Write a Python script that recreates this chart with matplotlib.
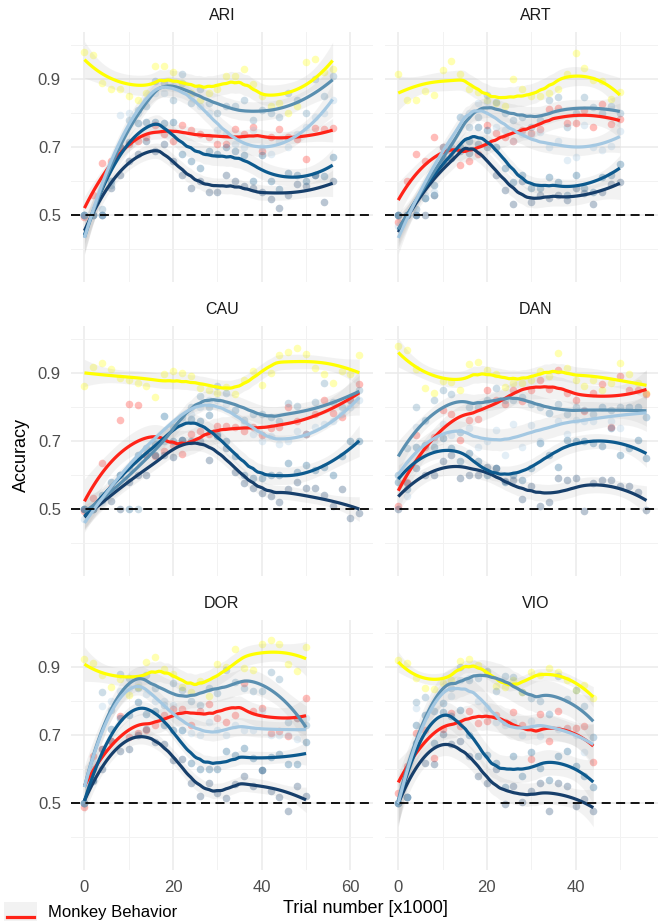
import numpy as np
import matplotlib
matplotlib.use("Agg")
from matplotlib import pyplot as plt
from matplotlib.lines import Line2D
from matplotlib.patches import Rectangle

plt.rcParams['font.family'] = ['Liberation Sans', 'DejaVu Sans']

# accuracy per 2000-trial block, one list per monkey and series
# "ideal" = yellow, "monkey" = red, l1..l4 = model layers (dark -> light blue)
ari_ideal = [0.98, 0.97, 0.89, 0.87, 0.87, 0.85, 0.84, 0.86, 0.94, 0.94, 0.92, 0.89, 0.86, 0.84, 0.86,
             0.87, 0.91, 0.91, 0.93, 0.885, 0.85, 0.82, 0.83, 0.80, 0.82, 0.95, 0.96, 0.92, 0.93]
ari_monkey = [0.495, 0.56, 0.654, 0.66, 0.70, 0.71, 0.72, 0.73, 0.765, 0.74, 0.72, 0.765, 0.75, 0.74, 0.73,
              0.71, 0.71, 0.755, 0.74, 0.76, 0.69, 0.73, 0.755, 0.73, 0.725, 0.667, 0.758, 0.755, 0.758]
ari_l1 = [0.50, 0.50, 0.50, 0.58, 0.62, 0.66, 0.68, 0.72, 0.69, 0.71, 0.66, 0.62, 0.58, 0.60, 0.57,
          0.57, 0.62, 0.60, 0.585, 0.58, 0.568, 0.547, 0.523, 0.56, 0.593, 0.585, 0.62, 0.539, 0.60]
ari_l2 = [0.50, 0.50, 0.50, 0.60, 0.70, 0.716, 0.77, 0.775, 0.775, 0.77, 0.775, 0.68, 0.66, 0.64, 0.69,
          0.68, 0.70, 0.69, 0.676, 0.60, 0.676, 0.60, 0.578, 0.623, 0.62, 0.60, 0.62, 0.615, 0.672]
ari_l3 = [0.50, 0.50, 0.52, 0.59, 0.70, 0.78, 0.81, 0.82, 0.895, 0.89, 0.84, 0.915, 0.83, 0.87, 0.83,
          0.80, 0.82, 0.82, 0.84, 0.78, 0.81, 0.80, 0.79, 0.86, 0.84, 0.80, 0.90, 0.85, 0.91]
ari_l4 = [0.50, 0.50, 0.50, 0.60, 0.794, 0.80, 0.80, 0.84, 0.86, 0.86, 0.88, 0.89, 0.85, 0.82, 0.80,
          0.75, 0.74, 0.71, 0.70, 0.75, 0.70, 0.68, 0.72, 0.70, 0.74, 0.76, 0.79, 0.80, 0.84]

art_ideal = [0.915, 0.84, 0.838, 0.866, 0.853, 0.926, 0.954, 0.915, 0.87, 0.863, 0.84, 0.83, 0.82,
             0.90, 0.87, 0.85, 0.85, 0.86, 0.87, 0.915, 0.978, 0.933, 0.897, 0.895, 0.843, 0.863]
art_monkey = [0.48, 0.60, 0.68, 0.66, 0.73, 0.70, 0.69, 0.647, 0.66, 0.68, 0.765, 0.742, 0.73,
              0.72, 0.75, 0.742, 0.755, 0.814, 0.817, 0.77, 0.77, 0.81, 0.76, 0.826, 0.768, 0.784]
art_l1 = [0.50, 0.50, 0.50, 0.50, 0.56, 0.67, 0.67, 0.69, 0.683, 0.71, 0.70, 0.62, 0.574,
          0.532, 0.60, 0.54, 0.56, 0.55, 0.56, 0.544, 0.58, 0.566, 0.532, 0.57, 0.593, 0.598]
art_l2 = [0.50, 0.50, 0.50, 0.55, 0.59, 0.66, 0.67, 0.70, 0.72, 0.76, 0.75, 0.70, 0.64,
          0.598, 0.618, 0.58, 0.58, 0.613, 0.598, 0.56, 0.618, 0.58, 0.57, 0.613, 0.62, 0.65]
art_l3 = [0.50, 0.50, 0.52, 0.55, 0.56, 0.70, 0.70, 0.79, 0.76, 0.79, 0.853, 0.833, 0.80,
          0.78, 0.79, 0.76, 0.78, 0.84, 0.848, 0.76, 0.80, 0.848, 0.818, 0.80, 0.82, 0.80]
art_l4 = [0.47, 0.50, 0.52, 0.56, 0.57, 0.70, 0.72, 0.79, 0.80, 0.83, 0.833, 0.76, 0.75,
          0.72, 0.74, 0.735, 0.745, 0.70, 0.72, 0.662, 0.672, 0.765, 0.70, 0.693, 0.703, 0.748]

cau_ideal = [0.861, 0.918, 0.93, 0.913, 0.886, 0.879, 0.871, 0.861, 0.83, 0.898, 0.906, 0.90, 0.89, 0.857, 0.85, 0.841,
             0.86, 0.838, 0.88, 0.906, 0.864, 0.90, 0.954, 0.963, 0.974, 0.957, 0.916, 0.896, 0.871, 0.906, 0.898, 0.952]
cau_monkey = [0.493, 0.532, 0.635, 0.561, 0.763, 0.81, 0.805, 0.66, 0.656, 0.67, 0.688, 0.662, 0.72, 0.73, 0.72, 0.744,
              0.744, 0.74, 0.73, 0.74, 0.718, 0.737, 0.74, 0.80, 0.76, 0.722, 0.78, 0.822, 0.781, 0.771, 0.82, 0.869]
cau_l1 = [0.50, 0.50, 0.527, 0.524, 0.50, 0.58, 0.60, 0.60, 0.659, 0.66, 0.654, 0.703, 0.70, 0.70, 0.644, 0.715,
          0.68, 0.61, 0.578, 0.561, 0.547, 0.537, 0.522, 0.56, 0.58, 0.561, 0.561, 0.54, 0.508, 0.56, 0.474, 0.488]
cau_l2 = [0.50, 0.50, 0.54, 0.58, 0.60, 0.50, 0.66, 0.66, 0.69, 0.773, 0.70, 0.703, 0.766, 0.76, 0.776, 0.722,
          0.70, 0.656, 0.60, 0.59, 0.59, 0.60, 0.60, 0.635, 0.61, 0.63, 0.615, 0.625, 0.60, 0.656, 0.70, 0.70]
cau_l3 = [0.50, 0.50, 0.53, 0.56, 0.60, 0.62, 0.50, 0.68, 0.66, 0.70, 0.74, 0.77, 0.80, 0.832, 0.80, 0.861,
          0.841, 0.79, 0.761, 0.78, 0.78, 0.77, 0.76, 0.812, 0.802, 0.722, 0.815, 0.871, 0.815, 0.80, 0.82, 0.85]
cau_l4 = [0.47, 0.50, 0.52, 0.56, 0.60, 0.62, 0.64, 0.68, 0.70, 0.773, 0.75, 0.76, 0.78, 0.80, 0.82, 0.82,
          0.81, 0.79, 0.75, 0.72, 0.70, 0.715, 0.69, 0.70, 0.73, 0.722, 0.74, 0.75, 0.76, 0.78, 0.80, 0.82]

dan_ideal = [0.979, 0.968, 0.913, 0.857, 0.841, 0.877, 0.874, 0.849, 0.925, 0.932, 0.908, 0.896, 0.859, 0.87, 0.871,
             0.88, 0.906, 0.89, 0.96, 0.916, 0.88, 0.861, 0.88, 0.851, 0.87, 0.93, 0.896, 0.87, 0.84]
dan_monkey = [0.51, 0.58, 0.718, 0.683, 0.713, 0.791, 0.78, 0.703, 0.763, 0.766, 0.851, 0.82, 0.808, 0.851, 0.818,
              0.849, 0.88, 0.854, 0.91, 0.84, 0.82, 0.789, 0.84, 0.867, 0.74, 0.89, 0.851, 0.851, 0.838]
dan_l1 = [0.50, 0.576, 0.62, 0.60, 0.60, 0.64, 0.66, 0.591, 0.60, 0.60, 0.625, 0.62, 0.581, 0.586, 0.529,
          0.568, 0.508, 0.52, 0.59, 0.586, 0.591, 0.493, 0.578, 0.586, 0.586, 0.568, 0.568, 0.55, 0.496]
dan_l2 = [0.58, 0.559, 0.683, 0.688, 0.683, 0.708, 0.679, 0.64, 0.664, 0.64, 0.60, 0.62, 0.58, 0.60, 0.586,
          0.62, 0.693, 0.66, 0.625, 0.703, 0.70, 0.701, 0.695, 0.685, 0.737, 0.66, 0.68, 0.703, 0.65]
dan_l3 = [0.60, 0.68, 0.80, 0.761, 0.822, 0.851, 0.838, 0.727, 0.80, 0.80, 0.822, 0.857, 0.822, 0.822, 0.83,
          0.81, 0.80, 0.783, 0.81, 0.78, 0.80, 0.79, 0.78, 0.80, 0.79, 0.80, 0.80, 0.80, 0.77]
dan_l4 = [0.60, 0.537, 0.74, 0.76, 0.70, 0.75, 0.718, 0.727, 0.737, 0.683, 0.70, 0.732, 0.66, 0.75, 0.683,
          0.747, 0.70, 0.783, 0.76, 0.72, 0.761, 0.76, 0.76, 0.80, 0.76, 0.737, 0.80, 0.80, 0.77]

dor_ideal = [0.923, 0.912, 0.878, 0.843, 0.866, 0.819, 0.843, 0.915, 0.931, 0.894, 0.88, 0.843, 0.827,
             0.86, 0.817, 0.909, 0.90, 0.954, 0.899, 0.892, 0.967, 0.98, 0.967, 0.909, 0.889, 0.96]
dor_monkey = [0.489, 0.639, 0.66, 0.684, 0.756, 0.694, 0.707, 0.717, 0.729, 0.76, 0.778, 0.778, 0.731,
              0.772, 0.792, 0.75, 0.74, 0.76, 0.853, 0.772, 0.78, 0.707, 0.714, 0.697, 0.75, 0.811]
dor_l1 = [0.50, 0.565, 0.60, 0.682, 0.655, 0.66, 0.70, 0.72, 0.68, 0.673, 0.626, 0.629, 0.56,
          0.521, 0.56, 0.53, 0.517, 0.558, 0.58, 0.55, 0.597, 0.536, 0.519, 0.478, 0.55, 0.521]
dor_l2 = [0.50, 0.57, 0.66, 0.72, 0.75, 0.76, 0.798, 0.762, 0.772, 0.73, 0.717, 0.717, 0.62,
          0.602, 0.60, 0.602, 0.653, 0.641, 0.663, 0.634, 0.597, 0.636, 0.645, 0.616, 0.616, 0.68]
dor_l3 = [0.50, 0.60, 0.827, 0.775, 0.88, 0.868, 0.84, 0.878, 0.84, 0.79, 0.853, 0.834, 0.80,
          0.79, 0.84, 0.824, 0.892, 0.858, 0.839, 0.829, 0.831, 0.885, 0.866, 0.739, 0.75, 0.731]
dor_l4 = [0.50, 0.62, 0.785, 0.80, 0.83, 0.84, 0.85, 0.82, 0.80, 0.80, 0.79, 0.717, 0.707,
          0.70, 0.74, 0.717, 0.70, 0.73, 0.717, 0.717, 0.77, 0.70, 0.70, 0.70, 0.69, 0.751]

vio_ideal = [0.921, 0.913, 0.868, 0.84, 0.837, 0.853, 0.863, 0.919, 0.924, 0.907, 0.887, 0.846,
             0.843, 0.863, 0.827, 0.885, 0.876, 0.899, 0.887, 0.863, 0.834, 0.848, 0.811]
vio_monkey = [0.531, 0.609, 0.707, 0.717, 0.632, 0.72, 0.765, 0.726, 0.772, 0.736, 0.743, 0.76,
              0.74, 0.768, 0.731, 0.629, 0.762, 0.684, 0.772, 0.721, 0.721, 0.726, 0.622]
vio_l1 = [0.50, 0.519, 0.678, 0.619, 0.616, 0.704, 0.673, 0.684, 0.639, 0.58, 0.56, 0.60,
          0.497, 0.551, 0.505, 0.536, 0.56, 0.478, 0.56, 0.55, 0.492, 0.512, 0.478]
vio_l2 = [0.50, 0.52, 0.729, 0.76, 0.678, 0.768, 0.756, 0.775, 0.70, 0.639, 0.641, 0.62,
          0.548, 0.639, 0.58, 0.651, 0.604, 0.57, 0.639, 0.653, 0.609, 0.58, 0.548]
vio_l3 = [0.50, 0.52, 0.798, 0.814, 0.77, 0.795, 0.839, 0.90, 0.863, 0.868, 0.889, 0.831,
          0.873, 0.87, 0.827, 0.81, 0.80, 0.764, 0.873, 0.807, 0.834, 0.785, 0.694]
vio_l4 = [0.50, 0.52, 0.78, 0.76, 0.77, 0.795, 0.817, 0.863, 0.868, 0.80, 0.78, 0.739,
          0.731, 0.74, 0.70, 0.743, 0.697, 0.764, 0.72, 0.72, 0.70, 0.651, 0.694]

panels = ["ARI", "ART", "CAU", "DAN", "DOR", "VIO"]
panel_data = {
    "ARI": [ari_ideal, ari_monkey, ari_l1, ari_l2, ari_l3, ari_l4],
    "ART": [art_ideal, art_monkey, art_l1, art_l2, art_l3, art_l4],
    "CAU": [cau_ideal, cau_monkey, cau_l1, cau_l2, cau_l3, cau_l4],
    "DAN": [dan_ideal, dan_monkey, dan_l1, dan_l2, dan_l3, dan_l4],
    "DOR": [dor_ideal, dor_monkey, dor_l1, dor_l2, dor_l3, dor_l4],
    "VIO": [vio_ideal, vio_monkey, vio_l1, vio_l2, vio_l3, vio_l4],
}
block_size = 2  # x1000 trials between points

colors = ["#ffff00", "#ff2318", "#173f6b", "#0d5a8e", "#5a8fb0", "#a4c8e2"]


def loess(x, y, grid, span=0.65):
    # local quadratic fit with tricube weights, like geom_smooth(method="loess")
    x = np.asarray(x, float)
    y = np.asarray(y, float)
    n = len(x)
    q = int(np.floor(span * n))

    def hat_row(x0):
        d = np.abs(x - x0)
        h = max(np.sort(d)[q - 1], 1e-9) * 1.0001
        w = (1 - np.clip(d / h, 0, 1) ** 3) ** 3
        X = np.column_stack([np.ones(n), x - x0, (x - x0) ** 2])
        XtW = X.T * w
        return np.linalg.solve(XtW @ X, XtW)[0]

    S = np.array([hat_row(xi) for xi in x])
    resid = y - S @ y
    sigma = np.sqrt(np.sum(resid ** 2) / (n - np.trace(S)))
    rows = np.array([hat_row(g) for g in grid])
    return rows @ y, sigma * np.sqrt(np.sum(rows ** 2, axis=1))


W, H = 658, 921
fig = plt.figure(figsize=(W / 100, H / 100), dpi=100)

col_left = [70.7, 384.5]
panel_w = 302.3
row_top = [32, 325.7, 620]
panel_h = 250

for i, name in enumerate(panels):
    r, c = divmod(i, 2)
    ax = fig.add_axes([col_left[c] / W, 1 - (row_top[r] + panel_h) / H, panel_w / W, panel_h / H])
    series = panel_data[name]
    x = np.arange(len(series[0])) * block_size
    grid = np.linspace(0, x[-1], 120)
    fits = [loess(x, y, grid) for y in series]

    for y, col in zip(series, colors):
        ax.scatter(x, y, s=30, color=col, alpha=0.3, linewidths=0, zorder=2)
    for fit, se in fits:
        ax.fill_between(grid, fit - 2 * se, fit + 2 * se, color="#999999", alpha=0.12, linewidth=0, zorder=3)
    for (fit, se), col in zip(fits, colors):
        ax.plot(grid, fit, color=col, lw=2.3, solid_capstyle="butt", zorder=4)

    ax.axhline(0.5, color="black", lw=1.3, linestyle=(0, (5, 3)), zorder=5)

    ax.set_xlim(-3.1, 65.1)
    ax.set_ylim(0.304, 1.039)
    ax.set_xticks([0, 20, 40, 60])
    ax.set_xticks([10, 30, 50], minor=True)
    ax.set_xticklabels(["0", "20", "40", "60" if c == 0 else ""])
    ax.set_yticks([0.5, 0.7, 0.9])
    ax.set_yticks([0.4, 0.6, 0.8, 1.0], minor=True)
    ax.set_yticklabels(["0.5", "0.7", "0.9"])
    ax.grid(which="major", color="#ebebeb", lw=1.1)
    ax.grid(which="minor", color="#f2f2f2", lw=0.7)
    ax.set_axisbelow(True)
    for sp in ax.spines.values():
        sp.set_visible(False)
    ax.tick_params(which="both", length=0, labelsize=12, labelcolor="#4d4d4d", pad=7)
    if c == 1:
        ax.tick_params(labelleft=False)
    if r < 2:
        ax.tick_params(labelbottom=False)
    ax.text(0.5, 1 + 16.5 / panel_h, name, transform=ax.transAxes, ha="center", va="center",
            fontsize=11.5, color="#1a1a1a")

fig.text(21.5 / W, 1 - 455 / H, "Accuracy", rotation=90, ha="center", va="center", fontsize=13, color="black")
fig.text(365 / W, 1 - 908 / H, "Trial number [x1000]", ha="center", va="center", fontsize=13, color="black")

# legend at the bottom-left edge
fig.patches.append(Rectangle((4 / W, 1 - 936 / H), 33 / W, 34 / H, transform=fig.transFigure,
                             facecolor="#f2f2f2", edgecolor="none"))
fig.lines.append(Line2D([7 / W, 34 / W], [1 - 917 / H, 1 - 917 / H], transform=fig.transFigure,
                        color=colors[1], lw=2.3))
fig.text(48 / W, 1 - 920 / H, "Monkey Behavior", ha="left", va="bottom", fontsize=12, color="black")

fig.savefig("out.png", dpi=100)
